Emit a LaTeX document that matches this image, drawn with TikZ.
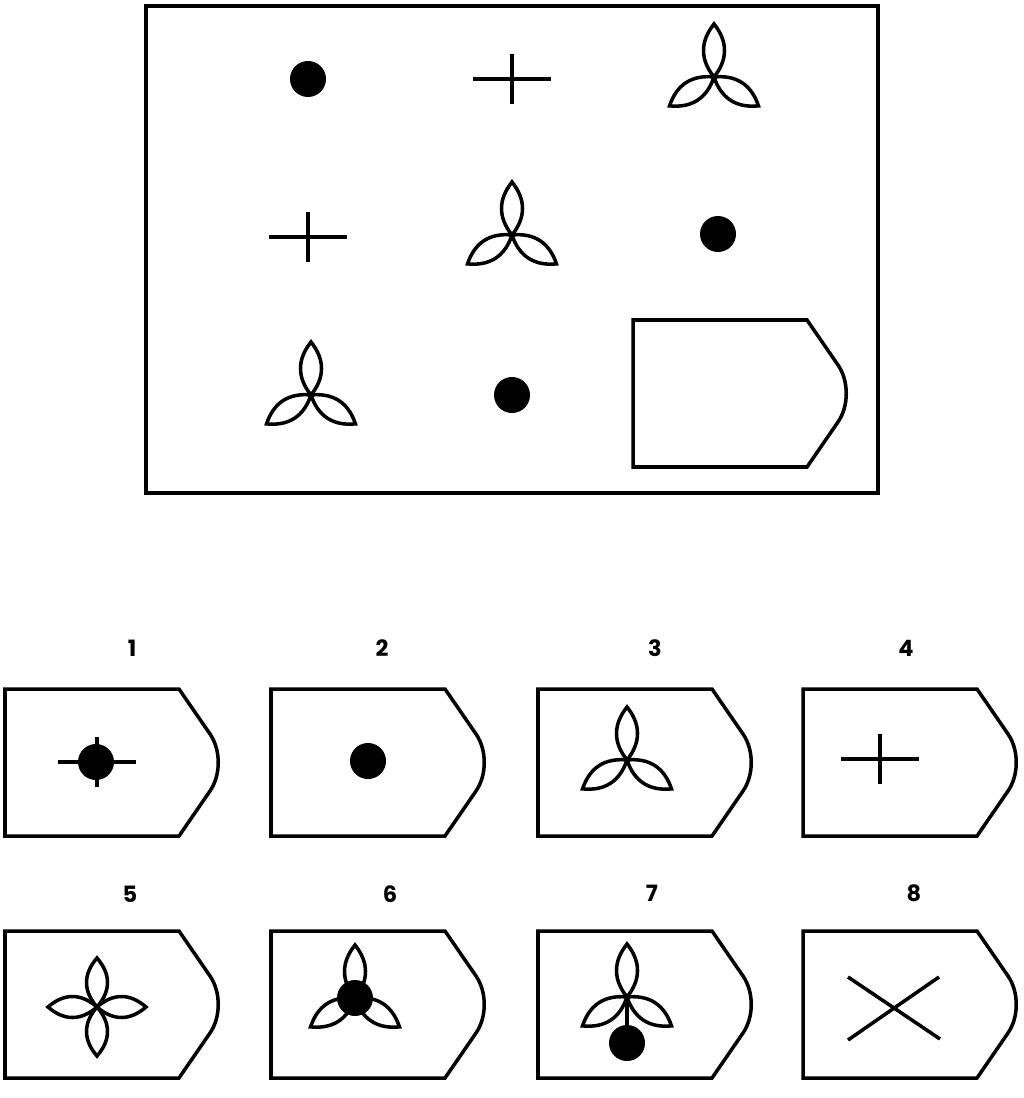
\documentclass[tikz,border=0pt]{standalone}
\usepackage{fontspec}
\newfontfamily\numfont{Poppins}
\usepackage{tikz}
\usetikzlibrary{positioning}
% one leaf of a flower: #1 = length, #2 = direction
\newcommand{\leaf}[2][53]{\draw[rotate=#2] (0,0) .. controls (0.33*#1,14) and (0.67*#1,14) .. (#1,0) .. controls (0.67*#1,-14) and (0.33*#1,-14) .. (0,0) -- cycle;}

\begin{document}
\begin{tikzpicture}[x=0.025cm,y=-0.025cm,line width=2.5pt, %1 unit = 1 px, y downwards
    card/.pic={\draw (0,0) -- (174,0) -- (205,45) .. controls (216,61) and (216,86) .. (205,102) -- (174,147) -- (0,147) -- cycle;},
    dot/.pic={\fill (0,0) circle (18);},
    plus/.pic={\draw (-39,0) -- (39,0) (0,-25) -- (0,25);},
    trefoil/.pic={\foreach \a in {90,213,327} {\leaf{\a}}},
    clover/.pic={\foreach \a in {0,90,180,270} {\leaf[49]{\a}}},
    num/.style={font=\numfont\bfseries\fontsize{16}{19}\selectfont}]
    \useasboundingbox (0,0) rectangle (1024,1098);

    % the 3x3 matrix
    \draw (146,6) rectangle (878,493);
    \pic (a11) at (308,79) {dot};
    \pic (a12) at (512,79) {plus};
    \pic (a13) at (714,77) {trefoil};
    \pic (a21) at (308,237) {plus};
    \pic (a22) at (512,235) {trefoil};
    \pic (a23) at (718,234) {dot};
    \pic (a31) at (311,395) {trefoil};
    \pic (a32) at (512,395) {dot};
    \pic (q) at (633,320) {card};

    % the answers
    \node[num] (n1) at (132,648) {1};
    \node[num] (n2) at (382,648) {2};
    \node[num] (n3) at (655,648) {3};
    \node[num] (n4) at (906,648) {4};
    \node[num] (n5) at (130,894) {5};
    \node[num] (n6) at (390,894) {6};
    \node[num] (n7) at (652,893) {7};
    \node[num] (n8) at (914,893) {8};

    \pic (c1) at (5,689) {card};
    \pic (c2) at (271,689) {card};
    \pic (c3) at (538,689) {card};
    \pic (c4) at (803,689) {card};
    \pic (c5) at (5,931) {card};
    \pic (c6) at (271,931) {card};
    \pic (c7) at (538,931) {card};
    \pic (c8) at (803,931) {card};

    \pic (s1a) at (97,762) {plus};  % cross behind the dot
    \pic (s1b) at (96,762) {dot};
    \pic (s2) at (368,761) {dot};
    \pic (s3) at (627,760) {trefoil};
    \pic (s4) at (880,759) {plus};
    \pic (s5) at (97,1007) {clover};
    \pic (s6a) at (355,998) {trefoil};
    \pic (s6b) at (355,998) {dot};
    \pic (s7a) at (627,997) {trefoil};
    \draw (627,997) -- (627,1030);
    \pic (s7b) at (627,1043) {dot};
    \draw (848,977) -- (940,1039) (848,1040) -- (939,977);
\end{tikzpicture}
\end{document}
